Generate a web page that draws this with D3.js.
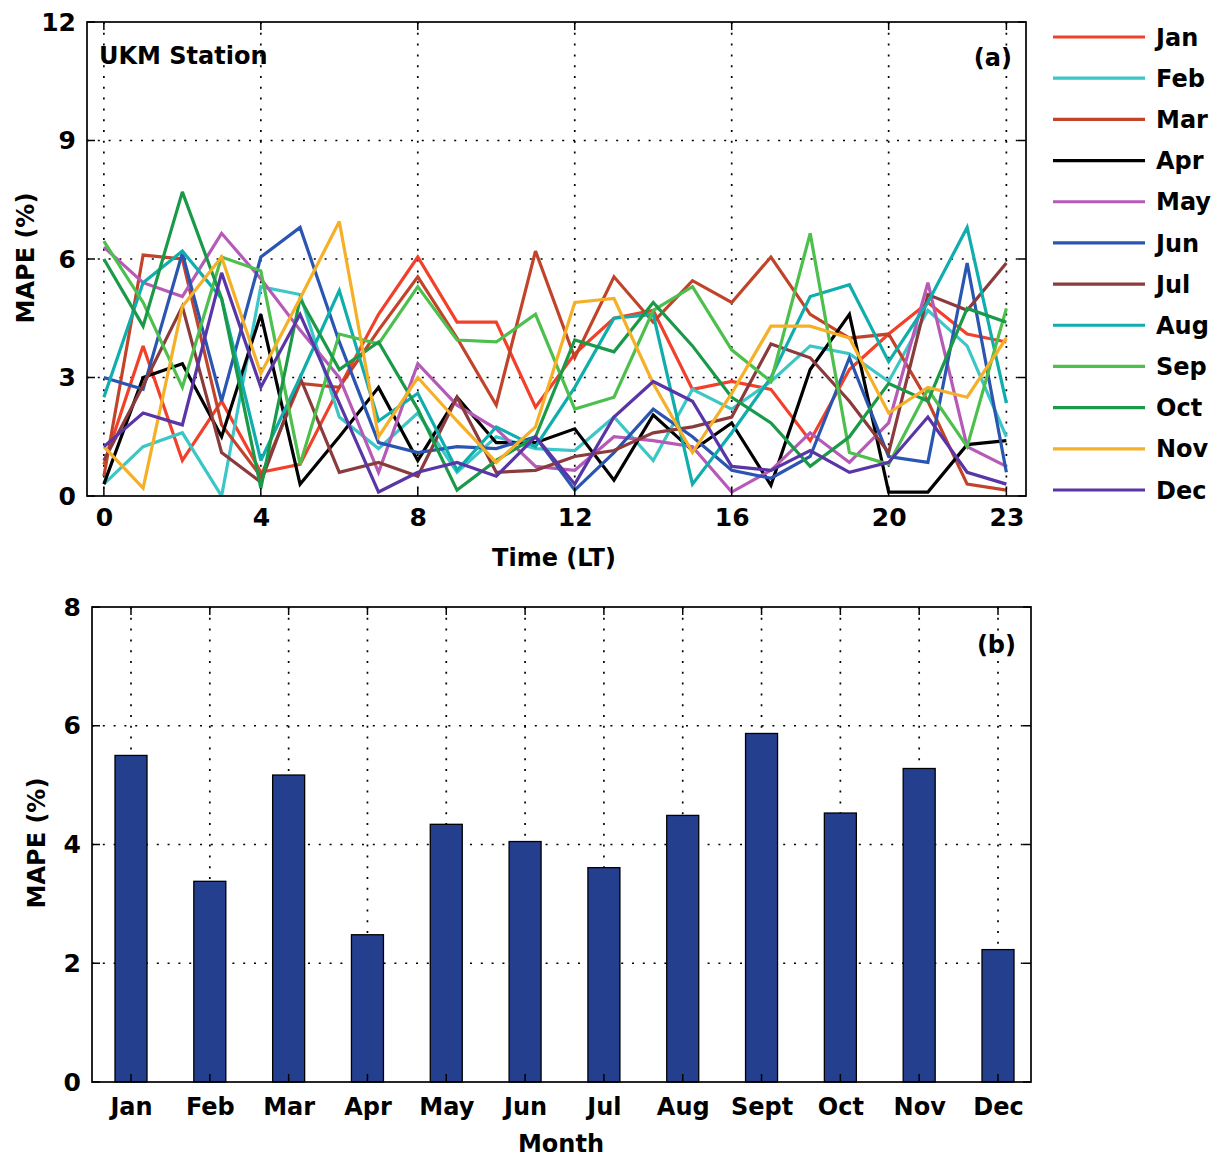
<!DOCTYPE html>
<html><head><meta charset="utf-8">
<script src="https://cdn.jsdelivr.net/npm/d3@7"></script>
<style>
html,body{margin:0;padding:0;background:#fff;}
svg text{font-family:"DejaVu Sans",sans-serif;font-weight:bold;fill:#000;}
</style></head>
<body>
<svg id="chart" width="1218" height="1158"></svg>
<script>
// ---------- DATA ----------
const hours = d3.range(0, 24);
const hourTicks = [0, 4, 8, 12, 16, 20, 23];
const mapeTicksA = [0, 3, 6, 9, 12];
const seriesNames = ["Jan","Feb","Mar","Apr","May","Jun","Jul","Aug","Sep","Oct","Nov","Dec"];
const seriesColors = ["#f2402a","#3cc6c6","#c1442a","#000000","#b65ab8","#2a55b0","#8b3b3b","#10adad","#4cbf4c","#1a9a48","#f5b027","#5a35a5"];
const jan = [0.8,3.8,0.9,2.4,0.6,0.8,2.75,4.6,6.05,4.4,4.4,2.25,3.6,4.5,4.7,2.7,2.9,2.7,1.4,3.2,4.1,4.9,4.1,3.9];
const feb = [0.3,1.25,1.6,0.0,5.3,5.1,2.0,1.2,2.1,0.6,1.5,1.2,1.15,2.0,0.9,2.7,2.2,2.9,3.8,3.6,2.9,4.7,3.8,1.5];
const mar = [0.5,6.1,6.0,1.8,0.5,2.85,2.75,4.2,5.55,4.0,2.3,6.2,3.5,5.55,4.4,5.45,4.9,6.05,4.6,4.0,4.1,2.4,0.3,0.15];
const apr = [0.3,3.0,3.35,1.5,4.6,0.3,1.5,2.75,0.9,2.5,1.35,1.35,1.7,0.4,2.05,1.15,1.85,0.27,3.2,4.6,0.1,0.1,1.3,1.4];
const may = [6.3,5.4,5.05,6.65,5.5,4.2,3.0,0.6,3.35,2.3,1.7,0.75,0.65,1.5,1.4,1.25,0.1,0.65,1.6,0.85,1.85,5.4,1.25,0.75];
const jun = [3.0,2.7,6.15,2.4,6.05,6.8,3.9,1.35,1.1,1.25,1.2,1.5,0.15,1.1,2.2,1.5,0.65,0.45,1.0,3.5,1.0,0.85,5.9,0.6];
const jul = [0.9,2.8,4.8,1.1,0.35,3.0,0.6,0.85,0.5,2.5,0.6,0.65,1.0,1.15,1.6,1.75,2.0,3.85,3.5,2.4,1.1,5.1,4.7,5.9];
const aug = [2.5,5.4,6.2,5.0,0.9,3.0,5.2,1.9,2.6,0.65,1.75,1.25,2.75,4.5,4.6,0.3,1.6,3.0,5.05,5.35,3.4,4.9,6.8,2.35];
const sep = [6.45,4.9,2.75,6.05,5.7,0.8,4.1,3.85,5.3,3.95,3.9,4.6,2.2,2.5,4.7,5.3,3.7,2.9,6.65,1.1,0.8,2.7,1.25,4.75];
const oct = [6.0,4.3,7.7,5.0,0.2,5.0,3.2,3.9,2.2,0.15,0.9,1.5,3.95,3.65,4.9,3.8,2.5,1.85,0.75,1.5,2.85,2.4,4.75,4.4];
const nov = [1.25,0.2,4.8,6.05,3.1,5.0,6.95,1.5,3.0,1.9,0.85,1.75,4.9,5.0,2.85,1.1,2.6,4.3,4.3,4.0,2.1,2.75,2.5,4.0];
const dec = [1.25,2.1,1.8,5.65,2.75,4.6,2.35,0.1,0.6,0.85,0.5,1.5,0.3,2.0,2.9,2.4,0.75,0.65,1.15,0.6,0.85,2.0,0.6,0.3];
const seriesValues = [jan,feb,mar,apr,may,jun,jul,aug,sep,oct,nov,dec];

const months = ["Jan","Feb","Mar","Apr","May","Jun","Jul","Aug","Sept","Oct","Nov","Dec"];
const monthlyMape = [5.5,3.38,5.17,2.48,4.34,4.05,3.61,4.49,5.87,4.53,5.28,2.23];
const mapeTicksB = [0, 2, 4, 6, 8];

// ---------- DRAW ----------
const svg = d3.select("#chart");
const FS = 24;
const NUMFONT = "Liberation Sans, Arial, sans-serif";

function frameAndGrid(g, x, y, left, right, top, bottom, xt, yt) {
  const dash = "2,8.8";
  g.selectAll(".vg").data(xt).join("line")
    .attr("x1", d => x(d)).attr("x2", d => x(d)).attr("y1", top).attr("y2", bottom)
    .attr("stroke", "#000").attr("stroke-width", 1.7).attr("stroke-dasharray", dash);
  g.selectAll(".hg").data(yt.filter(v => y(v) > top + 1 && y(v) < bottom - 1)).join("line")
    .attr("x1", left).attr("x2", right).attr("y1", d => y(d)).attr("y2", d => y(d))
    .attr("stroke", "#000").attr("stroke-width", 1.7).attr("stroke-dasharray", dash);
}
function frameTicks(g, x, y, left, right, top, bottom, xt, yt) {
  g.append("rect").attr("x", left).attr("y", top).attr("width", right - left).attr("height", bottom - top)
    .attr("fill", "none").attr("stroke", "#000").attr("stroke-width", 1.7);
  const L = 8;
  xt.forEach(v => {
    g.append("line").attr("x1", x(v)).attr("x2", x(v)).attr("y1", bottom).attr("y2", bottom - L).attr("stroke", "#000").attr("stroke-width", 1.5);
    g.append("line").attr("x1", x(v)).attr("x2", x(v)).attr("y1", top).attr("y2", top + L).attr("stroke", "#000").attr("stroke-width", 1.5);
  });
  yt.forEach(v => {
    g.append("line").attr("x1", left).attr("x2", left + L).attr("y1", y(v)).attr("y2", y(v)).attr("stroke", "#000").attr("stroke-width", 1.5);
    g.append("line").attr("x1", right).attr("x2", right - L).attr("y1", y(v)).attr("y2", y(v)).attr("stroke", "#000").attr("stroke-width", 1.5);
  });
}
function styleAxis(a, font, size) {
  a.select(".domain").remove();
  a.selectAll("text").attr("font-size", size).attr("font-family", font).attr("font-weight", "bold").attr("fill", "#000");
}

// ---- Panel (a) ----
const A = {left: 87, right: 1026, top: 22, bottom: 496};
const xA = d3.scaleLinear().domain([-0.43, 23.5]).range([A.left, A.right]);
const yA = d3.scaleLinear().domain([0, 12]).range([A.bottom, A.top]);
const gA = svg.append("g");
frameAndGrid(gA, xA, yA, A.left, A.right, A.top, A.bottom, hourTicks, mapeTicksA);

const line = d3.line().x((d, i) => xA(hours[i])).y(d => yA(d));
svg.append("clipPath").attr("id", "clipA").append("rect")
  .attr("x", A.left).attr("y", A.top).attr("width", A.right - A.left).attr("height", A.bottom - A.top);
gA.append("g").attr("clip-path", "url(#clipA)")
  .selectAll("path").data(seriesValues).join("path")
  .attr("d", d => line(d)).attr("fill", "none")
  .attr("stroke", (d, i) => seriesColors[i]).attr("stroke-width", 3.2)
  .attr("stroke-linejoin", "miter").attr("stroke-miterlimit", 3);

frameTicks(gA, xA, yA, A.left, A.right, A.top, A.bottom, hourTicks, mapeTicksA);

const axBA = gA.append("g").attr("transform", `translate(0,${A.bottom})`)
  .call(d3.axisBottom(xA).tickValues(hourTicks).tickSize(0).tickPadding(12));
const axLA = gA.append("g").attr("transform", `translate(${A.left},0)`)
  .call(d3.axisLeft(yA).tickValues(mapeTicksA).tickSize(0).tickPadding(11));
styleAxis(axBA, NUMFONT, 25); styleAxis(axLA, NUMFONT, 25);
axBA.selectAll("text").attr("dy", "0.72em");

gA.append("text").attr("x", 554).attr("y", 566).attr("text-anchor", "middle").attr("font-size", FS).text("Time (LT)");
gA.append("text").attr("transform", "translate(34,258) rotate(-90)").attr("text-anchor", "middle").attr("font-size", FS).text("MAPE (%)");
gA.append("text").attr("x", 99).attr("y", 64).attr("font-size", FS).text("UKM Station");
gA.append("text").attr("x", 1012).attr("y", 66).attr("text-anchor", "end").attr("font-size", FS).text("(a)");

// legend
const leg = svg.append("g");
const legY = d3.scalePoint().domain(seriesNames).range([37, 490]);
seriesNames.forEach((n, i) => {
  leg.append("line").attr("x1", 1053).attr("x2", 1145).attr("y1", legY(n)).attr("y2", legY(n))
    .attr("stroke", seriesColors[i]).attr("stroke-width", 3.2);
  leg.append("text").attr("x", 1156).attr("y", legY(n)).attr("dy", "0.36em").attr("font-size", FS).text(n);
});

// ---- Panel (b) ----
const B = {left: 92, right: 1031, top: 607, bottom: 1082};
const xB = d3.scaleLinear().domain([1, 12]).range([131, 998]);
const yB = d3.scaleLinear().domain([0, 8]).range([B.bottom, B.top]);
const gB = svg.append("g");
const monthIdx = months.map((m, i) => i + 1);
frameAndGrid(gB, xB, yB, B.left, B.right, B.top, B.bottom, monthIdx, mapeTicksB);
const bw = 32;
gB.selectAll("rect.bar").data(monthlyMape).join("rect").attr("class", "bar")
  .attr("x", (d, i) => xB(i + 1) - bw / 2).attr("width", bw)
  .attr("y", d => yB(d)).attr("height", d => yB(0) - yB(d))
  .attr("fill", "#243f8e").attr("stroke", "#000").attr("stroke-width", 1.3);
frameTicks(gB, xB, yB, B.left, B.right, B.top, B.bottom, monthIdx, mapeTicksB);

const axBB = gB.append("g").attr("transform", `translate(0,${B.bottom})`)
  .call(d3.axisBottom(xB).tickValues(monthIdx).tickFormat((d) => months[d - 1]).tickSize(0).tickPadding(16));
const axLB = gB.append("g").attr("transform", `translate(${B.left},0)`)
  .call(d3.axisLeft(yB).tickValues(mapeTicksB).tickSize(0).tickPadding(11));
styleAxis(axBB, "DejaVu Sans, sans-serif", FS); styleAxis(axLB, NUMFONT, 25);
axBB.selectAll("text").attr("dy", "0.72em");

gB.append("text").attr("x", 561).attr("y", 1152).attr("text-anchor", "middle").attr("font-size", FS).text("Month");
gB.append("text").attr("transform", "translate(45,843) rotate(-90)").attr("text-anchor", "middle").attr("font-size", FS).text("MAPE (%)");
gB.append("text").attr("x", 1016).attr("y", 653).attr("text-anchor", "end").attr("font-size", FS).text("(b)");
</script>
</body></html>
